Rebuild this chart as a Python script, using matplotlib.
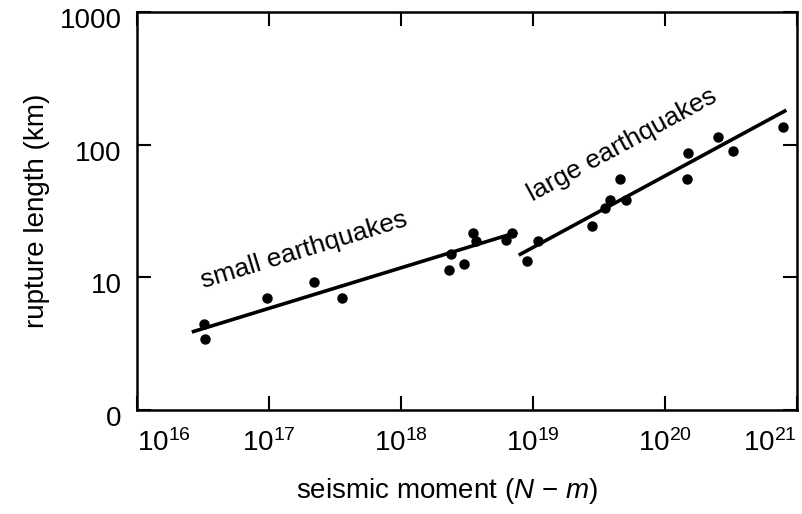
import matplotlib
matplotlib.use("Agg")
import matplotlib.pyplot as plt
import matplotlib.transforms as mtransforms
import numpy as np

plt.rcParams['font.family'] = ['Liberation Sans', 'DejaVu Sans']
plt.rcParams['mathtext.fontset'] = 'custom'
plt.rcParams['mathtext.rm'] = 'Liberation Sans'
plt.rcParams['mathtext.it'] = 'Liberation Sans:italic'

# small earthquakes (seismic moment in N-m, rupture length in km)
small_moment = [3.2e16, 3.3e16, 9.7e16, 2.2e17, 3.6e17, 2.3e18, 2.4e18,
                3.0e18, 3.5e18, 3.7e18, 6.2e18, 6.9e18]
small_length = [4.45, 3.4, 7.0, 9.2, 7.0, 11.4, 15.0, 12.6, 21.6, 18.8, 19.1, 21.6]

# large earthquakes
large_moment = [9.0e18, 1.1e19, 2.8e19, 3.5e19, 3.8e19, 4.6e19, 5.1e19,
                1.47e20, 1.5e20, 2.5e20, 3.3e20, 7.8e20]
large_length = [13.3, 18.8, 24.4, 33.3, 38.3, 55, 38.3, 55, 86, 114, 89, 136]

# fitted lines (end points)
fit_small_m = [2.6e16, 7.6e18]
fit_small_l = [3.87, 21.9]
fit_large_m = [7.8e18, 8.3e20]
fit_large_l = [14.7, 182]

xticks = [1e16, 1e17, 1e18, 1e19, 1e20, 1e21]
xlabels = [r'$\mathregular{10^{16}}$', r'$\mathregular{10^{17}}$', r'$\mathregular{10^{18}}$',
           r'$\mathregular{10^{19}}$', r'$\mathregular{10^{20}}$', r'$\mathregular{10^{21}}$']
yticks = [1, 10, 100, 1000]
ylabels = ['0', '10', '100', '1000']

fig = plt.figure(figsize=(8.03, 5.14), dpi=100)
ax = fig.add_axes([137 / 803, 1 - 410 / 514, 660 / 803, 398 / 514])
ax.set_xscale('log')
ax.set_yscale('log')
ax.set_xlim(1e16, 1e21)
ax.set_ylim(1, 1000)

ax.plot(fit_small_m, fit_small_l, color='black', lw=2.6, solid_capstyle='butt')
ax.plot(fit_large_m, fit_large_l, color='black', lw=2.6, solid_capstyle='butt')
ax.plot(small_moment, small_length, 'o', color='black', ms=6.5)
ax.plot(large_moment, large_length, 'o', color='black', ms=6.5)

ax.text(1.84e17, 16.1, 'small earthquakes', fontsize=19, rotation=17,
        ha='center', va='center', rotation_mode='anchor')
ax.text(4.7e19, 99, 'large earthquakes', fontsize=19, rotation=28.5,
        ha='center', va='center', rotation_mode='anchor')

ax.minorticks_off()
ax.set_xticks(xticks, xlabels, fontsize=20)
ax.set_yticks(yticks, ylabels, fontsize=20)
ax.tick_params(axis='both', which='major', direction='in', length=10, width=1.5,
               top=True, right=True)
ax.tick_params(axis='x', pad=14)
ax.tick_params(axis='y', pad=11)
for s in ax.spines.values():
    s.set_linewidth(1.8)

xl = ax.get_xticklabels()
xl[0].set_horizontalalignment('left')
xl[-1].set_horizontalalignment('right')
off = mtransforms.ScaledTranslation(0, -6 / 100, fig.dpi_scale_trans)
for lab in ax.get_yticklabels():
    lab.set_transform(lab.get_transform() + off)

ax.set_xlabel(r'seismic moment ($N$ $-$ $m$)', fontsize=20)
ax.xaxis.set_label_coords((447 - 137) / 660, -(476 - 410) / 398)
ax.set_ylabel('rupture length (km)', fontsize=20)
ax.yaxis.set_label_coords((50 - 137) / 660, 0.5)

fig.savefig('out.png', dpi=100)
